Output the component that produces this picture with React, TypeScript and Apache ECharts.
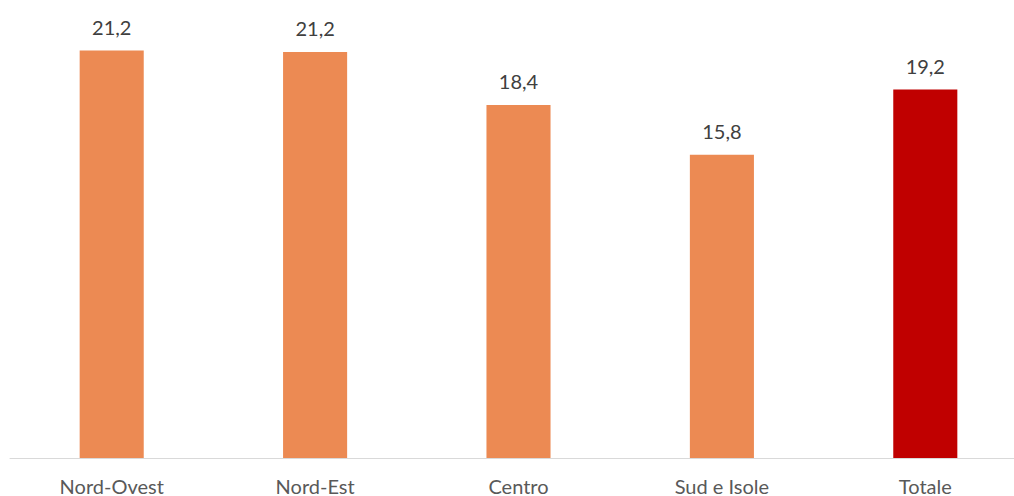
import React, { useEffect, useRef } from "react";
import * as echarts from "echarts";

const categories = ["Nord-Ovest", "Nord-Est", "Centro", "Sud e Isole", "Totale"];
const values = [21.23, 21.16, 18.4, 15.8, 19.2];
const barColors = ["#EC8A53", "#EC8A53", "#EC8A53", "#EC8A53", "#C00000"];

export default function App() {
  const ref = useRef<HTMLDivElement>(null);
  useEffect(() => {
    document.body.style.margin = "0";
    const chart = echarts.init(ref.current!, null, { renderer: "svg" });
    chart.setOption({
      animation: false,
      grid: { left: 10, width: 1017, top: 35.8, height: 422.2, containLabel: false },
      xAxis: {
        type: "category",
        data: categories,
        axisLine: { lineStyle: { color: "#D9D9D9", width: 1 } },
        axisTick: { show: false },
        axisLabel: {
          color: "#595959",
          fontSize: 20,
          lineHeight: 18,
          fontFamily: "Lato",
          margin: 18.5,
        },
      },
      yAxis: {
        type: "value",
        min: 0,
        max: 22,
        show: false,
        splitLine: { show: false },
      },
      series: [
        {
          type: "bar",
          barWidth: "31.5%",
          data: values.map((v, i) => ({ value: v, itemStyle: { color: barColors[i] } })),
          label: {
            show: true,
            position: "top",
            distance: 14,
            color: "#404040",
            fontSize: 20,
            lineHeight: 20,
            fontFamily: "Lato",
            formatter: (p: any) => String(p.value.toFixed(1)).replace(".", ","),
          },
        },
      ],
    });
    return () => chart.dispose();
  }, []);
  return (
    <div style={{ width: 1014, height: 496, overflow: "hidden", position: "relative" }}>
      <div ref={ref} style={{ width: 1030, height: 496 }} />
    </div>
  );
}
